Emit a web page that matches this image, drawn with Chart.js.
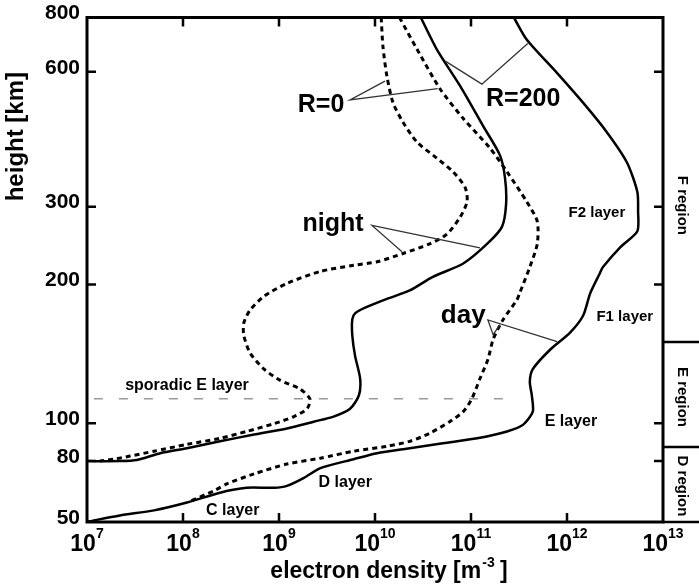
<!DOCTYPE html>
<html>
<head>
<meta charset="utf-8">
<script src="https://cdn.jsdelivr.net/npm/chart.js@4.4.0/dist/chart.umd.min.js"></script>
<style>
  html, body { margin: 0; padding: 0; background: #fff; }
  canvas { display: block; }
</style>
</head>
<body>
<canvas id="chart" width="699" height="585"></canvas>
<script>
// height axis: tick heights [km] and where each one sits along the axis (0 = bottom, 1 = top)
const heightTicks = [50, 80, 100, 200, 300, 600, 800];
const heightTickPos = [0, 0.1207, 0.1957, 0.4710, 0.6250, 0.8924, 1];
const densityTicks = [1e7, 1e8, 1e9, 1e10, 1e11, 1e12, 1e13];

// night, R=0 (dashed)
const nightR0Density = [1.16e10, 1.21e10, 1.33e10, 1.54e10, 1.96e10, 2.74e10, 4.4e10, 6.5e10, 8.7e10, 9.1e10,
  7.7e10, 5.6e10, 3.7e10, 1.96e10, 1.05e10, 6.0e9, 2.7e9, 1.21e9, 7.0e8, 5.0e8, 4.3e8, 4.3e8, 5.0e8, 7.0e8,
  1.02e9, 1.66e9, 2.1e9, 1.96e9, 1.43e9, 8.9e8, 4.6e8, 2.43e8, 1.1e8, 5.0e7, 2.8e7, 1.9e7, 1.36e7];
const nightR0Height = [800, 686, 587, 512, 463, 418, 385, 359, 331, 308,
  284, 260, 247, 235, 225, 221, 214, 201, 188.5, 176, 165, 155, 142, 131,
  124, 118.6, 112.9, 107.5, 103.4, 99.8, 95.3, 91.5, 88.3, 84.8, 82.4, 80.9, 80];

// night, R=200 (solid)
const nightR200Density = [3.0e10, 4.4e10, 7.7e10, 1.33e11, 2.0e11, 2.26e11, 2.32e11, 2.1e11, 1.47e11, 8.3e10,
  4.0e10, 2.3e10, 1.33e10, 7.9e9, 6.2e9, 5.8e9, 5.8e9, 6.2e9, 7.0e9, 6.8e9, 5.5e9, 3.7e9, 2.3e9, 1.21e9,
  5.5e8, 2.43e8, 1.1e8, 5.8e7, 3.3e7, 2.2e7, 1e7];
const nightR200Height = [800, 676, 558, 455, 391, 348, 304, 270, 247, 223,
  208, 194, 186, 178, 173, 168, 155, 140, 125, 115, 107.5, 103.4, 100.8, 97,
  93.6, 89.9, 86.3, 83.8, 80.5, 80, 80];

// day, R=0 (dashed)
const dayR0Density = [1.8e10, 2.74e10, 4.75e10, 8.3e10, 1.58e11, 2.37e11, 3.8e11, 4.9e11, 4.9e11, 4.1e11,
  3.2e11, 3.0e11, 2.15e11, 1.7e11, 1.5e11, 1.24e11, 1.02e11, 8.3e10, 6.0e10, 3.7e10, 2.3e10, 1.33e10,
  6.0e9, 2.7e9, 1.21e9, 5.5e8, 2.9e8, 2.1e8, 1.2e8];
const dayR0Height = [800, 676, 550, 472, 405, 359, 308, 278, 247, 219,
  191, 185, 167.5, 152, 137.5, 125, 113, 106, 100.8, 94.2, 89.9, 87.3,
  84.8, 81.4, 78.2, 72.5, 67.2, 63.6, 58.8];

// day, R=200 (solid)
const dayR200Density = [2.8e11, 3.8e11, 7.9e11, 1.47e12, 2.6e12, 4.2e12, 5.4e12, 5.5e12, 5.4e12, 3.6e12,
  2.37e12, 2.2e12, 1.74e12, 1.47e12, 1.07e12, 6.7e11, 4.4e11, 4.1e11, 4.3e11, 4.4e11, 3.5e11, 2.37e11,
  1.16e11, 5.1e10, 2.3e10, 1.05e10, 6.0e9, 2.7e9, 1.82e9, 1.21e9, 8.9e8, 4.6e8, 2.43e8, 1.1e8, 5.0e7,
  2.2e7, 1.18e7, 1e7];
const dayR200Height = [800, 712, 596, 512, 440, 377, 324, 293, 264, 243,
  219, 212, 191, 171, 157, 144.5, 131, 123, 115, 106, 99.2, 95.3,
  91.5, 88.9, 86.3, 83.8, 80.9, 75.8, 70.3, 66.1, 65.1, 65.1, 62.7, 58.1, 54.7,
  52.6, 50.6, 50];

// sporadic E layer marker
const sporadicDensity = [1.18e7, 2.4e11];
const sporadicHeight = [113, 113];

// regions on the right: names and the heights where they meet
const regionNames = ['F region', 'E region', 'D region'];
const regionBounds = [150, 87];

const zip = (xs, ys) => xs.map((v, i) => ({ x: v, y: ys[i] }));

// annotation texts, anchored in data units [text, density, height, font px]
const notes = [
  ['sporadic E layer', 1.1e8, 120.4, 16],
  ['C layer', 3.3e8, 54.7, 16],
  ['D layer', 4.9e9, 67.6, 16],
  ['E layer', 1.1e12, 100.8, 16],
  ['F1 layer', 4.0e12, 170, 15],
  ['F2 layer', 2.05e12, 291, 15],
  ['R=0', 2.74e9, 506, 25],
  ['R=200', 3.5e11, 522, 25],
  ['night', 3.65e9, 274, 25],
  ['day', 8.3e10, 171, 26]
];
const regionLabelHeights = [302, 114, 66];
// leader lines from the labels to the curves
const leaders = [
  [[1.27e10, 572], [5.5e9, 519], [4.5e10, 550]],
  [[5.4e10, 635], [1.3e11, 563], [3.9e11, 697]],
  [[1.91e10, 237], [9.3e9, 272], [1.24e11, 242]],
  [[7.9e11, 150.3], [1.5e11, 167.5], [1.7e11, 155.6], [2.0e11, 163.4]]
];

function heightToPos(h) {
  const lh = Math.log10(h);
  for (let i = 1; i < heightTicks.length; i++) {
    const a = Math.log10(heightTicks[i - 1]), b = Math.log10(heightTicks[i]);
    if (lh <= b || i === heightTicks.length - 1) {
      return heightTickPos[i - 1] + (lh - a) / (b - a) * (heightTickPos[i] - heightTickPos[i - 1]);
    }
  }
}
function posToHeight(p) {
  for (let i = 1; i < heightTickPos.length; i++) {
    if (p <= heightTickPos[i] || i === heightTickPos.length - 1) {
      const a = Math.log10(heightTicks[i - 1]), b = Math.log10(heightTicks[i]);
      const t = (p - heightTickPos[i - 1]) / (heightTickPos[i] - heightTickPos[i - 1]);
      return Math.pow(10, a + t * (b - a));
    }
  }
}

// the height axis of the figure is log-like but not a pure log scale
class HeightScale extends Chart.LinearScale {
  getPixelForValue(value) {
    return value == null ? NaN : this.getPixelForDecimal(heightToPos(value));
  }
  getValueForPixel(pixel) {
    return posToHeight(this.getDecimalForPixel(pixel));
  }
}
HeightScale.id = 'height';
HeightScale.defaults = Chart.LinearScale.defaults;
Chart.register(HeightScale);

const FONT = '"Liberation Sans", Arial, sans-serif';

const overlay = {
  id: 'overlay',
  afterDraw(chart) {
    const { ctx, chartArea: a, scales: { x, y } } = chart;
    const px = v => x.getPixelForValue(v);
    const py = v => y.getPixelForValue(v);
    ctx.save();
    ctx.strokeStyle = '#000';
    ctx.lineWidth = 3;
    ctx.strokeRect(a.left, a.top, a.right - a.left, a.bottom - a.top);

    ctx.lineWidth = 2.5;
    ctx.beginPath();
    densityTicks.slice(1, -1).forEach(v => {
      ctx.moveTo(px(v), a.bottom); ctx.lineTo(px(v), a.bottom - 9);
      ctx.moveTo(px(v), a.top); ctx.lineTo(px(v), a.top + 9);
    });
    heightTicks.slice(1, -1).forEach(v => {
      ctx.moveTo(a.left, py(v)); ctx.lineTo(a.left + 9, py(v));
      ctx.moveTo(a.right, py(v)); ctx.lineTo(a.right - 9, py(v));
    });
    regionBounds.concat([heightTicks[0]]).forEach(h => {
      ctx.moveTo(a.right, py(h)); ctx.lineTo(chart.width, py(h));
    });
    ctx.stroke();

    ctx.fillStyle = '#000';

    // density tick labels: 10 with a raised exponent
    ctx.textAlign = 'left';
    ctx.textBaseline = 'alphabetic';
    densityTicks.forEach(v => {
      const e = String(Math.round(Math.log10(v)));
      ctx.font = 'bold 23px ' + FONT;
      const wb = ctx.measureText('10').width;
      ctx.font = 'bold 14px ' + FONT;
      const we = ctx.measureText(e).width;
      const left = px(v) - (wb + we) / 2;
      ctx.font = 'bold 23px ' + FONT;
      ctx.fillText('10', left, a.bottom + 29);
      ctx.font = 'bold 14px ' + FONT;
      ctx.fillText(e, left + wb, a.bottom + 16);
    });

    // region names, rotated
    ctx.font = 'bold 15px ' + FONT;
    ctx.textAlign = 'center';
    ctx.textBaseline = 'middle';
    regionNames.forEach((name, i) => {
      ctx.save();
      ctx.translate(a.right + 19, py(regionLabelHeights[i]));
      ctx.rotate(Math.PI / 2);
      ctx.fillText(name, 0, 0);
      ctx.restore();
    });

    // leader lines
    ctx.strokeStyle = '#333';
    ctx.lineWidth = 1.3;
    leaders.forEach(line => {
      ctx.beginPath();
      line.forEach(([d, h], i) => i ? ctx.lineTo(px(d), py(h)) : ctx.moveTo(px(d), py(h)));
      ctx.stroke();
    });

    // texts inside the plot
    notes.forEach(([text, d, h, size]) => {
      ctx.font = 'bold ' + size + 'px ' + FONT;
      ctx.fillText(text, px(d), py(h));
    });

    // axis titles
    ctx.save();
    ctx.font = 'bold 24px ' + FONT;
    ctx.translate(16, py(430));
    ctx.rotate(-Math.PI / 2);
    ctx.fillText('height [km]', 0, 0);
    ctx.restore();

    const t1 = 'electron density [m', t2 = '-3', t3 = ' ]';
    const big = 'bold 23px ' + FONT, small = 'bold 14px ' + FONT;
    ctx.font = big;
    const w1 = ctx.measureText(t1).width, w3 = ctx.measureText(t3).width;
    ctx.font = small;
    const w2 = ctx.measureText(t2).width;
    const cx = px(1.4e10) - (w1 + w2 + w3) / 2;
    const cy = 572;
    ctx.textAlign = 'left';
    ctx.font = big;
    ctx.fillText(t1, cx, cy);
    ctx.font = small;
    ctx.fillText(t2, cx + w1 + 1, cy - 9);
    ctx.font = big;
    ctx.fillText(t3, cx + w1 + w2, cy);
    ctx.restore();
  }
};

const curve = (data, dashed) => ({
  data: data,
  borderColor: '#000',
  borderWidth: dashed ? 3 : 2.5,
  borderDash: dashed ? [5, 4] : [],
  pointRadius: 0,
  tension: 0.25,
  fill: false
});

new Chart(document.getElementById('chart'), {
  type: 'line',
  data: {
    datasets: [
      curve(zip(nightR0Density, nightR0Height), true),
      curve(zip(nightR200Density, nightR200Height), false),
      curve(zip(dayR0Density, dayR0Height), true),
      curve(zip(dayR200Density, dayR200Height), false),
      {
        data: zip(sporadicDensity, sporadicHeight),
        borderColor: '#9a9a9a',
        borderWidth: 1.5,
        borderDash: [9, 16],
        pointRadius: 0
      }
    ]
  },
  options: {
    responsive: false,
    animation: false,
    layout: { autoPadding: false, padding: { top: 11, right: 36, left: 0, bottom: 0 } },
    plugins: {
      legend: { display: false },
      tooltip: { enabled: false }
    },
    scales: {
      x: {
        type: 'logarithmic',
        min: 1e7,
        max: 1e13,
        grid: { display: false, drawTicks: false },
        border: { display: false },
        afterBuildTicks: scale => { scale.ticks = densityTicks.map(v => ({ value: v })); },
        afterFit: scale => { scale.height = 63; },
        ticks: { display: false }
      },
      y: {
        type: 'height',
        min: 50,
        max: 800,
        grid: { display: false, drawTicks: false },
        border: { display: false },
        afterBuildTicks: scale => { scale.ticks = heightTicks.map(v => ({ value: v })); },
        afterFit: scale => { scale.width = 87; },
        ticks: {
          autoSkip: false,
          padding: 7,
          labelOffset: -4,
          color: '#000',
          font: { family: FONT, size: 21, weight: 'bold', lineHeight: 1 },
          callback: v => String(v)
        }
      }
    }
  },
  plugins: [overlay]
});
</script>
</body>
</html>
